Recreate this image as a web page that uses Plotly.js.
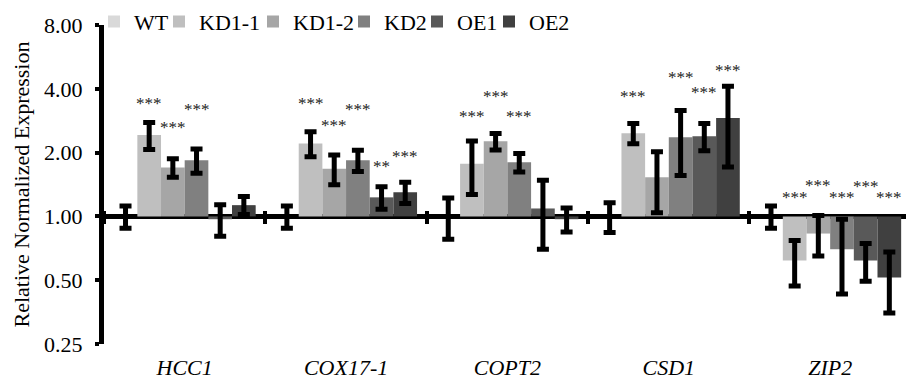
<!DOCTYPE html>
<html>
<head>
<meta charset="utf-8">
<script src="https://cdn.plot.ly/plotly-3.0.1.min.js"></script>
<style>html,body{margin:0;padding:0;background:#fff;}#chart{width:906px;height:379px;}</style>
</head>
<body>
<div id="chart"></div>
<script>
// ---- data (fold change, linear units) ----
const categories = ['HCC1', 'COX17-1', 'COPT2', 'CSD1', 'ZIP2'];
const seriesNames = ['WT', 'KD1-1', 'KD1-2', 'KD2', 'OE1', 'OE2'];

const wtVals   = [1.00, 1.00, 1.00, 1.00, 1.00];
const kd11Vals = [2.42, 2.21, 1.77, 2.47, 0.62];
const kd12Vals = [1.70, 1.68, 2.26, 1.53, 0.83];
const kd2Vals  = [1.84, 1.84, 1.80, 2.36, 0.70];
const oe1Vals  = [0.97, 1.23, 1.09, 2.39, 0.62];
const oe2Vals  = [1.13, 1.30, 0.97, 2.91, 0.515];

const wtErr   = [0.12, 0.12, 0.22, 0.16, 0.12];
const kd11Err = [0.35, 0.30, 0.50, 0.27, 0.15];
const kd12Err = [0.17, 0.27, 0.20, 0.49, 0.18];
const kd2Err  = [0.24, 0.21, 0.18, 0.80, 0.27];
const oe1Err  = [0.165, 0.15, 0.39, 0.35, 0.125];
const oe2Err  = [0.11, 0.15, 0.125, 1.20, 0.165];

// significance marks
const wtSig   = ['', '', '', '', ''];
const kd11Sig = ['***', '***', '***', '***', '***'];
const kd12Sig = ['***', '***', '***', '', '***'];
const kd2Sig  = ['***', '***', '***', '***', '***'];
const oe1Sig  = ['', '**', '', '***', '***'];
const oe2Sig  = ['', '***', '', '***', '***'];

const tickVals = [0.25, 0.5, 1, 2, 4, 8];
const tickText = ['0.25', '0.50', '1.00', '2.00', '4.00', '8.00'];

// ---- styles / label placement (not data) ----
const colors = ['#d9d9d9', '#bfbfbf', '#a6a6a6', '#808080', '#595959', '#404040'];
const starLift = [
  [0, 0, 0, 0, 0],
  [23, 32, 28, 31, 23],
  [35, 33, 41, 0, 34],
  [43, 45, 41, 37, 23],
  [0, 24, 0, 35, 34],
  [0, 30, 0, 20, 23]
];
const legendLeftPx = [94, 159, 253, 344, 417, 489];
const FONT = 'Liberation Serif';
const BARGAP = 0.12;
const ML = 104, MR = 0, W = 906;

const allVals = [wtVals, kd11Vals, kd12Vals, kd2Vals, oe1Vals, oe2Vals];
const allErr = [wtErr, kd11Err, kd12Err, kd2Err, oe1Err, oe2Err];
const allSig = [wtSig, kd11Sig, kd12Sig, kd2Sig, oe1Sig, oe2Sig];

const legendKey = i => (i === 0 ? 'legend' : 'legend' + (i + 1));

const traces = seriesNames.map((name, i) => {
  const v = allVals[i], e = allErr[i];
  return {
    type: 'bar', name: name, x: categories,
    y: v.map(Math.log2),
    legend: legendKey(i),
    marker: {color: colors[i], line: {width: 0}},
    error_y: {
      type: 'data', symmetric: false,
      array: v.map((d, j) => Math.log2(d + e[j]) - Math.log2(d)),
      arrayminus: v.map((d, j) => Math.log2(d) - Math.log2(d - e[j])),
      color: '#000', thickness: 5, width: 6
    },
    hoverinfo: 'skip'
  };
});
// helper trace so the boundary-tick axis knows the categories
traces.push({type: 'scatter', x: categories, y: categories.map(() => null), xaxis: 'x2', yaxis: 'y',
  showlegend: false, hoverinfo: 'skip', mode: 'markers'});

const annotations = [];
const nS = seriesNames.length;
const bw = (1 - BARGAP) / nS;
allSig.forEach((sig, i) => {
  sig.forEach((s, j) => {
    if (!s) return;
    const v = allVals[i][j], e = allErr[i][j];
    const top = Math.max(Math.log2(v + e), 0);
    annotations.push({
      xref: 'x', yref: 'y', x: j + (i - (nS - 1) / 2) * bw, y: top,
      text: s, showarrow: false, yanchor: 'middle', xanchor: 'center',
      yshift: starLift[i][j] - 4,
      font: {family: FONT, size: 17, color: '#222'}
    });
  });
});

const layout = {
  width: W, height: 379,
  margin: {l: ML, r: MR, t: 25, b: 35},
  paper_bgcolor: '#fff', plot_bgcolor: '#fff',
  barmode: 'group', bargap: BARGAP, bargroupgap: 0,
  font: {family: FONT, size: 22, color: '#000'},
  showlegend: true,
  xaxis: {
    type: 'category', categoryarray: categories, range: [-0.5, 4.47],
    showline: false, zeroline: false, showgrid: false, ticks: '',
    tickfont: {family: FONT, size: 22, style: 'italic', color: '#000'},
    ticklabelstandoff: 8
  },
  xaxis2: {
    type: 'category', categoryarray: categories, range: [-0.5, 4.47],
    overlaying: 'x', anchor: 'free', position: 0.42, side: 'bottom',
    showline: false, zeroline: false, showgrid: false, showticklabels: false,
    ticks: 'outside', tickson: 'boundaries', ticklen: 13, tickwidth: 4, tickcolor: '#000'
  },
  yaxis: {
    range: [-2, 3], tickvals: tickVals.map(Math.log2), ticktext: tickText,
    showline: true, linewidth: 5, linecolor: '#000', showgrid: false,
    zeroline: true, zerolinewidth: 5, zerolinecolor: '#000',
    ticks: 'outside', ticklen: 4, tickwidth: 4, tickcolor: '#000',
    tickfont: {family: FONT, size: 22, color: '#000'},
    ticklabelstandoff: 8,
    title: {text: 'Relative Normalized Expression', font: {family: FONT, size: 22, color: '#000'}, standoff: 10}
  },
  annotations: annotations
};
seriesNames.forEach((n, i) => {
  layout[legendKey(i)] = {
    orientation: 'h', x: (legendLeftPx[i] - ML) / (W - ML - MR), xanchor: 'left',
    y: 1.01, yanchor: 'middle', bgcolor: 'rgba(0,0,0,0)', itemwidth: 30,
    font: {family: FONT, size: 22, color: '#000'}
  };
});

Plotly.newPlot('chart', traces, layout, {displayModeBar: false, staticPlot: true});
</script>
</body>
</html>
